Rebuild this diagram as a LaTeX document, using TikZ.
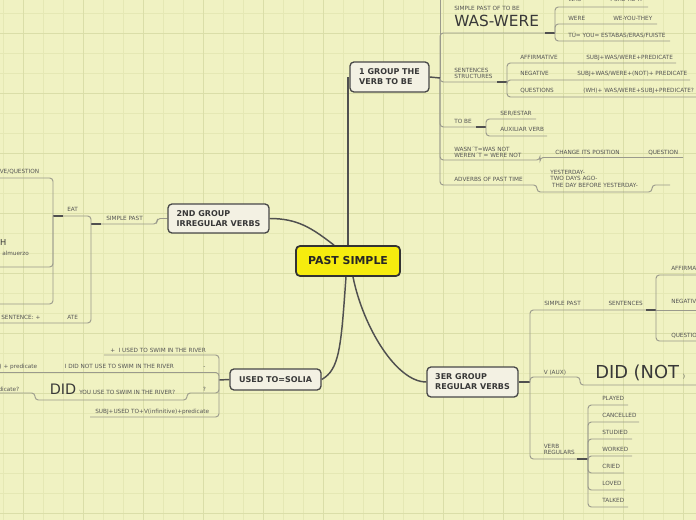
\documentclass[tikz,border=0pt]{standalone}
\usepackage{fontspec}
\setmainfont{DejaVu Sans}
\usepackage{xcolor}
\usepackage{tikz}
\usetikzlibrary{backgrounds}

\definecolor{paper}{HTML}{F0F2C2}
\definecolor{gridfine}{HTML}{E5E8B4}
\definecolor{gridbold}{HTML}{DADEA8}
\definecolor{boxfill}{HTML}{F3F1E3}
\definecolor{boxline}{HTML}{484848}
\definecolor{boxtext}{HTML}{383838}
\definecolor{mainyellow}{HTML}{F6EC0E}
\definecolor{stem}{HTML}{505050}
\definecolor{twig}{HTML}{9A9A8C}
\definecolor{lbltext}{HTML}{555555}

\begin{document}
\begin{tikzpicture}[
    x=0.75pt, y=-0.75pt,
    topic/.style={draw=boxline, line width=1pt, fill=boxfill, rounded corners=3pt, align=left, text=boxtext, font=\bfseries\fontsize{6}{7.5}\selectfont, inner sep=0pt},
    central/.style={draw=black!80, line width=1.3pt, fill=mainyellow, rounded corners=3pt, font=\bfseries\fontsize{8.2}{10}\selectfont, text=black!85, inner sep=0pt, minimum width=78pt, minimum height=22.5pt},
    lbl/.style={font=\fontsize{4.3}{4.6}\selectfont, text=lbltext, inner sep=0pt, align=left},
    big/.style={inner sep=0pt, text=boxtext, font=\fontsize{11.5}{12}\selectfont},
    stemline/.style={draw=stem, line width=1.1pt},
    twigline/.style={draw=twig, line width=0.7pt, rounded corners=2.5pt},
    knot/.style={draw=stem, line width=1.1pt}
]

\useasboundingbox (0,0) rectangle (696,520);

% Root
\node[central] (ps) at (348,261) {PAST SIMPLE};

% Main topics
\node[topic, minimum width=59.25pt, minimum height=22.5pt] (g1) at (389.5,77) {1 GROUP THE\\VERB TO BE};
\node[topic, minimum width=75.75pt, minimum height=21.75pt] (g2) at (218.5,218.5) {2ND GROUP\\IRREGULAR VERBS};
\node[topic, minimum width=68.25pt, minimum height=15.75pt] (ut) at (275.5,379.5) {USED TO=SOLIA};
\node[topic, minimum width=68.25pt, minimum height=22.5pt] (g3) at (472.5,382) {3ER GROUP\\REGULAR VERBS};

% 1 group: to be
\node[lbl, anchor=base west] (pastof) at (454,10.5) {SIMPLE PAST OF TO BE};
\node[big, anchor=base west] (waswere) at (454,27) {WAS-WERE};
\node[lbl, anchor=base west] (was) at (568,2) {WAS};
\node[lbl, anchor=base west] (wasp) at (610,2) {I-SHE-HE-IT};
\node[lbl, anchor=base west] (were) at (568,20.5) {WERE};
\node[lbl, anchor=base west] (werep) at (613,20.5) {WE-YOU-THEY};
\node[lbl, anchor=base west] (tu) at (568,37.5) {TÚ= YOU= ESTABAS/ERAS/FUISTE};
\node[lbl, anchor=south west] (struct) at (454,78.5) {SENTENCES\\STRUCTURES};
\node[lbl, anchor=base west] (aff) at (520,59.3) {AFFIRMATIVE};
\node[lbl, anchor=base west] (affr) at (586,59.3) {SUBJ+WAS/WERE+PREDICATE};
\node[lbl, anchor=base west] (neg) at (520,75.8) {NEGATIVE};
\node[lbl, anchor=base west] (negr) at (577,75.8) {SUBJ+WAS/WERE+(NOT)+ PREDICATE};
\node[lbl, anchor=base west] (que) at (520,92.5) {QUESTIONS};
\node[lbl, anchor=base west] (quer) at (583,92.5) {(WH)+ WAS/WERE+SUBJ+PREDICATE?};
\node[lbl, anchor=base west] (tobe) at (454,124) {TO BE};
\node[lbl, anchor=base west] (ser) at (500,115.3) {SER/ESTAR};
\node[lbl, anchor=base west] (aux) at (500,131.8) {AUXILIAR VERB};
\node[lbl, anchor=south west] (wasnt) at (454,157.8) {WASN´T=WAS NOT\\WEREN´T = WERE NOT};
\node[lbl, anchor=base west] (change) at (555,155) {CHANGE ITS POSITION};
\node[lbl, anchor=base west] (question) at (648,155) {QUESTION};
\node[lbl, anchor=base west] (adverbs) at (454,182) {ADVERBS OF PAST TIME};
\node[lbl, anchor=south west] (yesterday) at (550,187.4) {YESTERDAY-\\TWO DAYS AGO-\\~THE DAY BEFORE YESTERDAY-};

% 2nd group: irregular verbs
\node[lbl, anchor=base west] (spast) at (106,221) {SIMPLE PAST};
\node[lbl, anchor=base west] (eat) at (67,212) {EAT};
\node[lbl, anchor=base east] (vequest) at (39.5,174) {VE/QUESTION};
\node[big, anchor=base east, font=\fontsize{6.2}{7}\selectfont] (bigh) at (6.5,246) {H};
\node[lbl, anchor=base west] (almuerzo) at (2,256) {almuerzo};
\node[lbl, anchor=base west] (sentplus) at (1,319.6) {SENTENCE: +};
\node[lbl, anchor=base west] (ate) at (67,319.6) {ATE};

% used to
\node[lbl, anchor=base west] (usedpos) at (110,352) {+~~I USED TO SWIM IN THE RIVER};
\node[lbl, anchor=base west] (usedneg) at (64.5,368.7) {I DID NOT USE TO SWIM IN THE RIVER};
\node[lbl, anchor=base west] (minus) at (203,368.7) {-};
\node[lbl, anchor=base east] (negpred) at (37.5,368.7) {) + predicate};
\node[big, anchor=base west, font=\fontsize{10.8}{12}\selectfont] (did) at (49.5,394) {DID};
\node[lbl, anchor=base west] (usedque) at (79,394) {YOU USE TO SWIM IN THE RIVER?};
\node[lbl, anchor=base west] (qmark) at (202.5,391) {?};
\node[lbl, anchor=base east] (quepred) at (19.5,391) {dicate?};
\node[lbl, anchor=base west] (usedrule) at (95,413) {SUBJ+USED TO+V(infinitive)+predicate};

% 3er group: regular verbs
\node[lbl, anchor=base west] (rpast) at (544,305.7) {SIMPLE PAST};
\node[lbl, anchor=base west] (rsent) at (608.3,305.7) {SENTENCES};
\node[lbl, anchor=base west] (raff) at (671,271) {AFFIRMATIVE};
\node[lbl, anchor=base west] (rneg) at (671,303.5) {NEGATIVE};
\node[lbl, anchor=base west] (rque) at (671,337.7) {QUESTIONS};
\node[lbl, anchor=base west] (vaux) at (543.5,374) {V (AUX)};
\node[big, anchor=base west, font=\fontsize{13.4}{14}\selectfont] (didnot) at (595,378) {DID (NOT};
\node[lbl, anchor=base west] (didclose) at (682.5,378) {)};
\node[lbl, anchor=south west] (vreg) at (543.5,455) {VERB\\REGULARS};
\node[lbl, anchor=base west] (played) at (602,400.7) {PLAYED};
\node[lbl, anchor=base west] (cancelled) at (602,417.7) {CANCELLED};
\node[lbl, anchor=base west] (studied) at (602,434.7) {STUDIED};
\node[lbl, anchor=base west] (worked) at (602,451.7) {WORKED};
\node[lbl, anchor=base west] (cried) at (602,468.7) {CRIED};
\node[lbl, anchor=base west] (loved) at (602,485.7) {LOVED};
\node[lbl, anchor=base west] (talked) at (602,502.5) {TALKED};

% Joints
\coordinate (k1) at (440,78);
\coordinate (k1top) at (440,-6);
\coordinate (k1w) at (555,33);
\coordinate (k1s) at (507,82);
\coordinate (k1t) at (486,127);
\coordinate (k2) at (91,224);
\coordinate (k2e) at (53,216);
\coordinate (k4) at (219,380);
\coordinate (k3) at (530,382);
\coordinate (k3s) at (656,310);
\coordinate (k3v) at (588,459);

\begin{scope}[on background layer]
% Paper and grid
\fill[paper] (0,0) rectangle (696,520);
\foreach \gx in {3,23,...,693} \draw[gridfine, line width=0.6pt] (\gx,0) -- (\gx,520);
\foreach \gy in {13,33,...,513} \draw[gridfine, line width=0.6pt] (0,\gy) -- (696,\gy);
\foreach \gx in {23,83,...,683} \draw[gridbold, line width=0.6pt] (\gx,0) -- (\gx,520);
\foreach \gy in {33,93,...,513} \draw[gridbold, line width=0.6pt] (0,\gy) -- (696,\gy);

% 1 group branches
\draw[twigline] (k1) -- (k1top);
\draw[twigline] (k1) |- (545,33);
\draw[knot] (545,33) -- (k1w);
\draw[twigline] (k1w) |- (648,7);
\draw[twigline] (k1w) |- (657,24);
\draw[twigline] (k1w) |- (670,41);
\draw[twigline] (k1) |- (497,82);
\draw[knot] (497,82) -- (k1s);
\draw[twigline] (k1s) |- (676,63);
\draw[twigline] (k1s) |- (690,80);
\draw[twigline] (k1s) |- (696,97);
\draw[twigline] (k1) |- (476,127);
\draw[knot] (476,127) -- (k1t);
\draw[twigline] (k1t) |- (536,119);
\draw[twigline] (k1t) |- (547,136);
\draw[twigline] (k1) |- (540,160) |- (683,157.5);
\draw[twigline] (k1) |- (537,185) |- (652,192) |- (670,185);
\draw[knot] (g1.east) -- (k1);

% 2nd group branches
\draw[twigline] (g2.west) -- (157,218.5) |- (101,224);
\draw[knot] (101,224) -- (k2);
\draw[twigline] (k2) |- (63,216);
\draw[knot] (63,216) -- (k2e);
\draw[twigline] (k2e) |- (-6,178);
\draw[twigline] (k2e) |- (-6,267);
\draw[twigline] (k2e) |- (-6,304);
\draw[twigline] (k2) |- (-6,323);

% used to branches
\draw[knot] (ut.west) -- (k4);
\draw[twigline] (k4) |- (104,355);
\draw[twigline] (k4) |- (-6,372.5);
\draw[twigline] (k4) |- (187,393) |- (35,400) |- (-6,393);
\draw[twigline] (k4) |- (90,417);

% 3er group branches
\draw[knot] (g3.east) -- (k3);
\draw[twigline] (k3) |- (646,310);
\draw[knot] (646,310) -- (k3s);
\draw[twigline] (k3s) |- (700,275);
\draw[twigline] (k3s) -- (700,310);
\draw[twigline] (k3s) |- (700,341);
\draw[twigline] (k3) |- (580,377) |- (700,385);
\draw[twigline] (k3) |- (577,459);
\draw[knot] (577,459) -- (k3v);
\draw[twigline] (k3v) |- (628,405);
\draw[twigline] (k3v) |- (639,422);
\draw[twigline] (k3v) |- (632,439);
\draw[twigline] (k3v) |- (632,456);
\draw[twigline] (k3v) |- (624,473);
\draw[twigline] (k3v) |- (625,490);
\draw[twigline] (k3v) |- (628,507);

% Main links
\draw[stemline] (ps.north) -- (ps.north |- g1.west);
\draw[stemline] ([xshift=-10.5pt]ps.north) .. controls +(-22,-17) and +(28,0) .. (g2.east);
\draw[stemline] ([xshift=-1.5pt]ps.south) .. controls +(-5,70) and +(18,-10) .. (ut.east);
\draw[stemline] ([xshift=3.75pt]ps.south) .. controls +(10,50) and +(-30,0) .. (g3.west);
\end{scope}

\end{tikzpicture}
\end{document}
